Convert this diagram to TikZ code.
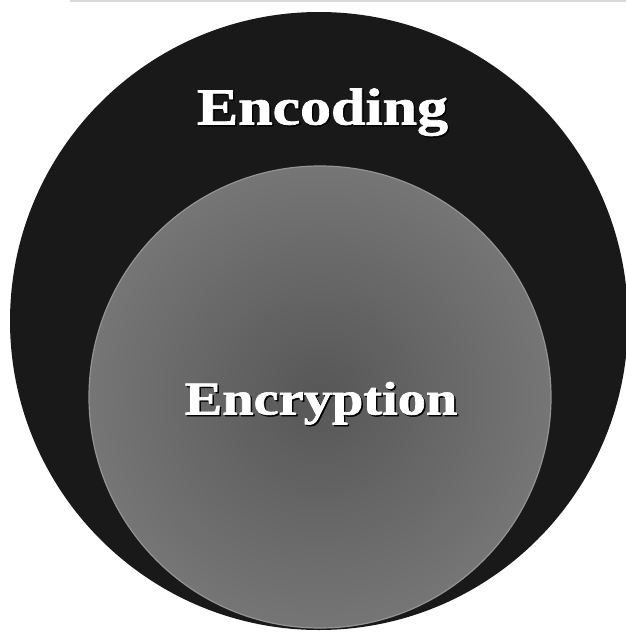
\documentclass[tikz,border=0pt]{standalone}
\usepackage{fontspec}
\setmainfont{Liberation Serif}
\newfontfamily\heavyserif[FakeBold=1.3]{Liberation Serif Bold}
\begin{document}
\begin{tikzpicture}[x=1pt,y=-1pt,
  outerdisc/.style={fill=black!90},
  innerdisc/.style={inner color=black!66,outer color=black!54,draw=black!42,line width=1.2pt},
  setlabel/.style={text=white,inner sep=0pt,anchor=base}]
  \useasboundingbox (0,0) rectangle (626,635);
  % faint rule along the top edge
  \draw[black!15,line width=1.2pt] (70,1) -- (626,1);
  % outer set
  \path[outerdisc] (319,321) circle[radius=309];
  % inner set
  \path[innerdisc] (320,397) circle[radius=231];
  % labels, each with a soft dark offset copy behind it
  \node[setlabel,text=black,font=\heavyserif\fontsize{52}{52}\selectfont,xscale=1.19] at (324,126) {Encoding};
  \node[setlabel,font=\heavyserif\fontsize{52}{52}\selectfont,xscale=1.19] (enc) at (322.5,124.5) {Encoding};
  \node[setlabel,text=black,font=\heavyserif\fontsize{47}{47}\selectfont,xscale=1.2] at (322.5,416) {Encryption};
  \node[setlabel,font=\heavyserif\fontsize{47}{47}\selectfont,xscale=1.2] (cry) at (321,414.5) {Encryption};
\end{tikzpicture}
\end{document}
